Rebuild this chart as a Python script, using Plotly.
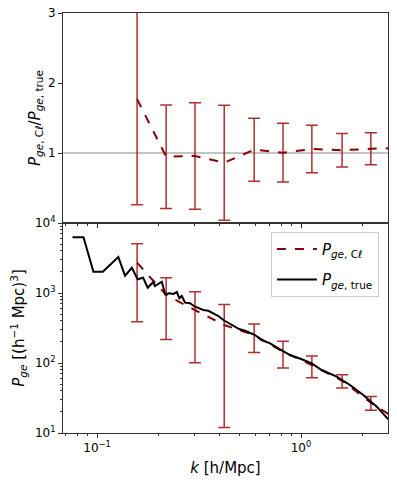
import numpy as np
import plotly.graph_objs as go
from plotly.subplots import make_subplots

# C_ell-derived estimate: k bins, ratio to truth and power spectrum
k_cl = [0.157, 0.218, 0.302, 0.42, 0.589, 0.816, 1.13, 1.59, 2.2, 3.07]
ratio_cl = [1.77, 0.947, 0.957, 0.861, 1.047, 1.004, 1.057, 1.039, 1.061, 1.07]
ratio_err = [1.51, 0.74, 0.76, 0.82, 0.45, 0.42, 0.34, 0.24, 0.23, 0.2]
p_cl = [2713, 936, 571, 349, 251, 145, 93.6, 55.8, 27.1, 14.5]
p_cl_err = [2325, 720, 470, 337, 110, 60, 32, 12, 6, 3.5]

# true cross power spectrum
k_true = [0.0757, 0.0857, 0.0959, 0.1066, 0.1165, 0.127, 0.137, 0.148, 0.158,
          0.168, 0.177, 0.188, 0.192, 0.1998, 0.2075, 0.2155, 0.226, 0.2364,
          0.246, 0.253, 0.26, 0.27, 0.2855, 0.302, 0.314, 0.332, 0.351,
          0.3715, 0.3935, 0.416, 0.44, 0.466, 0.484, 0.497, 0.531, 0.595,
          0.641, 0.705, 0.789, 0.883, 1.008, 1.128, 1.262, 1.37, 1.496,
          1.738, 2.02, 2.35, 2.68]
p_true = [6250, 6250, 2015, 2015, 2570, 3268, 1767, 2296, 1570,
          1656, 1191, 1422, 1259, 1345, 1449, 957, 990, 968,
          1033, 840, 906, 727, 713, 637, 604, 571, 558,
          513, 469, 411, 376, 338, 324, 306, 289, 251,
          213, 191, 157, 130, 113, 99, 79.4, 71.3, 63.7,
          48.5, 34.9, 23.8, 15.7]

red = '#8b0000'
err_col = 'rgba(165,25,25,0.9)'
font = 'DejaVu Sans'

fig = make_subplots(rows=2, cols=1, shared_xaxes=True, vertical_spacing=0)

fig.add_trace(go.Scatter(
    x=k_cl, y=ratio_cl, mode='lines',
    line=dict(color=red, width=2, dash='dash'),
    error_y=dict(type='data', array=ratio_err, color=err_col,
                 thickness=1.5, width=6),
    showlegend=False), row=1, col=1)

fig.add_trace(go.Scatter(
    x=k_cl, y=p_cl, mode='lines',
    line=dict(color=red, width=2, dash='dash'),
    error_y=dict(type='data', array=p_cl_err, color=err_col,
                 thickness=1.5, width=6),
    legendgroup='cl', legendrank=1,
    name='<i>P</i><sub><i>ge</i>, C<i>ℓ</i></sub>'), row=2, col=1)

fig.add_trace(go.Scatter(
    x=k_true, y=p_true, mode='lines',
    line=dict(color='black', width=2),
    legendgroup='true', legendrank=2,
    name='<i>P</i><sub><i>ge</i>, true</sub>'), row=2, col=1)

# reference line at ratio = 1 (after traces so the subplot is not empty)
fig.add_hline(y=1, line=dict(color='#888888', width=1), layer='below',
              row=1, col=1)

minor_x = [0.07, 0.08, 0.09, 0.2, 0.3, 0.4, 0.5, 0.6, 0.7, 0.8, 0.9, 2]
minor_y = [m * 10 ** d for d in range(1, 4) for m in range(2, 10)]

axis_style = dict(showgrid=False, zeroline=False, showline=True, mirror=True,
                  linecolor='#333333', linewidth=1, ticks='outside',
                  ticklen=4, tickcolor='#333333',
                  tickfont=dict(size=12, color='black'))

fig.update_xaxes(type='log', range=[np.log10(0.068), np.log10(2.67)],
                 tickvals=[0.1, 1], ticktext=['10<sup>−1</sup>', '10<sup>0</sup>'],
                 minor=dict(tickmode='array', tickvals=minor_x, ticks='outside',
                            ticklen=2, tickcolor='#333333'),
                 **axis_style)
fig.update_xaxes(showticklabels=False, row=1, col=1)
fig.update_xaxes(title=dict(text='<i>k</i> [h/Mpc]', font=dict(size=15),
                            standoff=8), row=2, col=1)

fig.update_yaxes(range=[0, 3], tickvals=[1, 2, 3],
                 title=dict(text='<i>P</i><sub><i>ge</i>, C<i>ℓ</i></sub>/<i>P</i><sub><i>ge</i>, true</sub>',
                            font=dict(size=15), standoff=3),
                 row=1, col=1, **axis_style)
fig.update_yaxes(type='log', range=[1, 4], tickvals=[10, 100, 1000, 10000],
                 ticktext=['10<sup>1</sup>', '10<sup>2</sup>', '10<sup>3</sup>', '10<sup>4</sup>'],
                 minor=dict(tickmode='array', tickvals=minor_y, ticks='outside',
                            ticklen=2, tickcolor='#333333'),
                 title=dict(text='<i>P</i><sub><i>ge</i></sub> [(h<sup>−1</sup> Mpc)<sup>3</sup>]',
                            font=dict(size=15), standoff=6),
                 row=2, col=1, **axis_style)

fig.update_layout(
    width=397, height=486,
    margin=dict(l=63, r=9, t=13, b=53),
    font=dict(family=font, color='black', size=12),
    template=None,
    paper_bgcolor='white',
    plot_bgcolor='white',
    legend=dict(x=0.972, y=0.479, xanchor='right', yanchor='top',
                bgcolor='white', bordercolor='#cccccc', borderwidth=1,
                font=dict(size=15), traceorder='grouped',
                tracegroupgap=8, itemwidth=40),
)

# drop the default page margin so the figure sits at the window corner
fig.write_html("out.html", config={'displayModeBar': False},
               post_script="document.body.style.margin='0';")
